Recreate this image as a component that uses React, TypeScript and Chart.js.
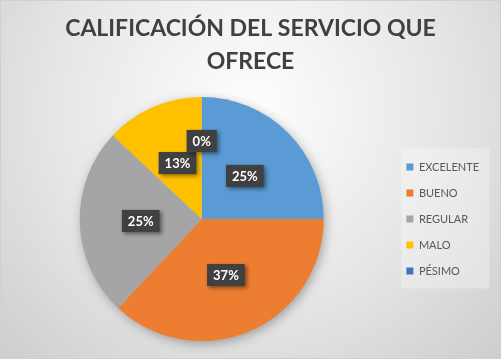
import React, { useEffect, useRef } from "react";
import { Chart, registerables } from "chart.js";

Chart.register(...registerables);

const TITLE_LINES = ["CALIFICACIÓN DEL SERVICIO QUE", "OFRECE"];
const CATEGORIES = ["EXCELENTE", "BUENO", "REGULAR", "MALO", "PÉSIMO"];
const PERCENTS = [25, 37, 25, 13, 0];
const COLORS = ["#5b9bd5", "#ed7d31", "#a5a5a5", "#ffc000", "#4472c4"];

const backgroundPlugin = {
  id: "bgPlugin",
  beforeDraw(chart: any) {
    const { ctx, width, height } = chart;
    ctx.save();
    const g = ctx.createRadialGradient(250, 110, 10, 250, 110, 380);
    g.addColorStop(0, "#fdfdfd");
    g.addColorStop(0.5, "#e6e6e6");
    g.addColorStop(1, "#c9c9c9");
    ctx.fillStyle = g;
    ctx.fillRect(0, 0, width, height);
    ctx.strokeStyle = "#d0d0d0";
    ctx.lineWidth = 1;
    ctx.strokeRect(0.5, 0.5, width - 1, height - 1);
    const lg = chart.legend;
    if (lg && lg.legendHitBoxes && lg.legendHitBoxes.length) {
      const hb = lg.legendHitBoxes;
      const first = hb[0];
      const last = hb[hb.length - 1];
      const x0 = first.left - 5;
      const y0 = first.top - 13;
      const y1 = last.top + last.height + 12;
      ctx.fillStyle = "rgba(255,255,255,0.3)";
      ctx.fillRect(x0, y0, 88, y1 - y0);
    }
    ctx.restore();
  },
  beforeDatasetsDraw(chart: any) {
    const meta = chart.getDatasetMeta(0);
    const a = meta.data[0];
    if (!a) return;
    const { ctx } = chart;
    ctx.save();
    ctx.shadowColor = "rgba(0,0,0,0.35)";
    ctx.shadowBlur = 12;
    ctx.shadowOffsetX = 2;
    ctx.shadowOffsetY = 3;
    ctx.fillStyle = "#bbbbbb";
    ctx.beginPath();
    ctx.arc(a.x, a.y, a.outerRadius - 1, 0, Math.PI * 2);
    ctx.fill();
    ctx.restore();
  },
};

const labelPlugin = {
  id: "boxLabels",
  afterDatasetsDraw(chart: any) {
    const { ctx } = chart;
    const meta = chart.getDatasetMeta(0);
    const values = chart.data.datasets[0].data as number[];
    ctx.save();
    ctx.font = "bold 13px Lato";
    ctx.textAlign = "center";
    ctx.textBaseline = "middle";
    meta.data.forEach((arc: any, i: number) => {
      const mid = (arc.startAngle + arc.endAngle) / 2;
      const frac = values[i] === 0 ? 0.64 : 0.5;
      const r = arc.outerRadius * frac;
      const x = arc.x + Math.cos(mid) * r;
      const y = arc.y + Math.sin(mid) * r;
      const text = values[i] + "%";
      const w = ctx.measureText(text).width + 12;
      const h = 22;
      ctx.save();
      ctx.shadowColor = "rgba(0,0,0,0.45)";
      ctx.shadowBlur = 4;
      ctx.shadowOffsetX = 2;
      ctx.shadowOffsetY = 2;
      ctx.fillStyle = "#404040";
      ctx.fillRect(x - w / 2, y - h / 2, w, h);
      ctx.restore();
      ctx.fillStyle = "#ffffff";
      ctx.fillText(text, x, y + 1);
    });
    ctx.restore();
  },
};

export default function App() {
  const ref = useRef<HTMLCanvasElement>(null);
  useEffect(() => {
    document.body.style.margin = "0";
    const chart = new Chart(ref.current as HTMLCanvasElement, {
      type: "pie",
      data: {
        labels: CATEGORIES,
        datasets: [
          {
            data: PERCENTS,
            backgroundColor: COLORS,
            borderWidth: 0,
          },
        ],
      },
      options: {
        responsive: false,
        animation: false,
        layout: { padding: { left: 12, right: 12, top: 0, bottom: 18 } },
        plugins: {
          tooltip: { enabled: false },
          title: {
            display: true,
            text: TITLE_LINES,
            color: "#404040",
            font: { family: "Lato", size: 23, weight: "bold", lineHeight: 33 / 23 },
            padding: { top: 12.5, bottom: 18.5 },
          },
          legend: {
            position: "right",
            fullSize: false,
            labels: {
              boxWidth: 7,
              boxHeight: 7,
              padding: 15,
              color: "#595959",
              font: { family: "Lato", size: 11 },
            },
          },
        },
      },
      plugins: [backgroundPlugin, labelPlugin],
    });
    return () => chart.destroy();
  }, []);
  return <canvas ref={ref} width={501} height={359} style={{ display: "block" }} />;
}
